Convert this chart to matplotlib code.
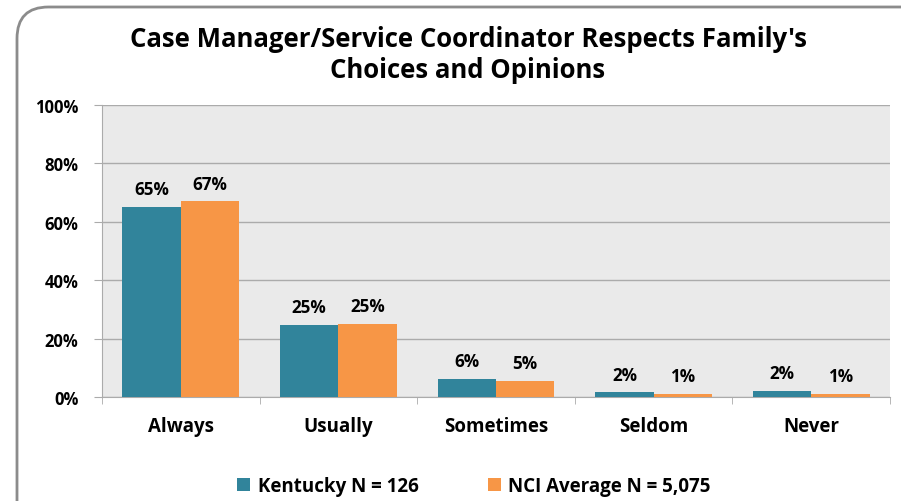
import numpy as np
import matplotlib.pyplot as plt
from matplotlib.patches import FancyBboxPatch

# data
categories = ['Always', 'Usually', 'Sometimes', 'Seldom', 'Never']
kentucky = [65.0, 24.6, 6.3, 1.6, 2.2]
nci = [67.0, 25.0, 5.4, 1.1, 1.1]
ky_labels = ['65%', '25%', '6%', '2%', '2%']
nci_labels = ['67%', '25%', '5%', '1%', '1%']
yticks = [0, 20, 40, 60, 80, 100]

teal = '#31849B'
orange = '#F79646'
font = 'Open Sans'

fig = plt.figure(figsize=(9.01, 5.02), dpi=100)
ax = fig.add_axes([102/901, 1-398/502, (890-102)/901, (398-106)/502])
ax.set_facecolor('#EAEAEA')

# rounded outer frame, cut off at right and bottom
frame = FancyBboxPatch((17/901, -0.2), 1.1, 1.2 - 8/502, boxstyle='round,pad=0,rounding_size=0.035',
                       transform=fig.transFigure, facecolor='none', edgecolor='#8C8C8C',
                       linewidth=2, mutation_aspect=901/502, clip_on=False)
fig.patches.append(frame)

x = np.arange(len(categories))
w = 0.37
b1 = ax.bar(x - w/2, kentucky, w, color=teal, label='Kentucky N = 126', zorder=3)
b2 = ax.bar(x + w/2, nci, w, color=orange, label='NCI Average N = 5,075', zorder=3)

for rect, lab in zip(b1, ky_labels):
    ax.text(rect.get_x() + rect.get_width()/2, rect.get_height() + 3, lab, ha='center', va='bottom',
            fontsize=12.3, fontweight='bold', family=font)
for rect, lab in zip(b2, nci_labels):
    ax.text(rect.get_x() + rect.get_width()/2, rect.get_height() + 3, lab, ha='center', va='bottom',
            fontsize=12.3, fontweight='bold', family=font)

ax.set_xlim(-0.5, len(categories) - 0.5)
ax.set_ylim(0, 100)
ax.set_yticks(yticks)
ax.set_yticklabels([f'{t}%' for t in yticks], fontsize=12, fontweight='bold', family=font)
ax.yaxis.grid(True, color='#ABABAB', linewidth=1, zorder=0)
ax.set_axisbelow(True)

ax.set_xticks(x)
ax.set_xticklabels(categories, fontsize=13.5, fontweight='bold', family=font)
ax.tick_params(axis='x', length=0, pad=14)
ax.set_xticks(np.arange(len(categories) + 1) - 0.5, minor=True)
ax.tick_params(axis='x', which='minor', length=5, color='#ABABAB')
ax.tick_params(axis='y', length=6, color='#ABABAB', pad=11)

for s in ['top', 'right']:
    ax.spines[s].set_visible(False)
for s in ['left', 'bottom']:
    ax.spines[s].set_color('#ABABAB')

fig.text(468/901, 1-55/502, "Case Manager/Service Coordinator Respects Family's\nChoices and Opinions",
         ha='center', va='center', fontsize=18.5, fontweight='bold', family=font, linespacing=1.15)

fig.legend(handles=[b1, b2], loc='center', bbox_to_anchor=(474/901, 1-487/502), ncol=2, frameon=False,
           prop={'family': font, 'weight': 'bold', 'size': 13.5}, handlelength=0.7, handleheight=0.7,
           handletextpad=0.4, columnspacing=3.7)

plt.savefig('out.png', dpi=100)
